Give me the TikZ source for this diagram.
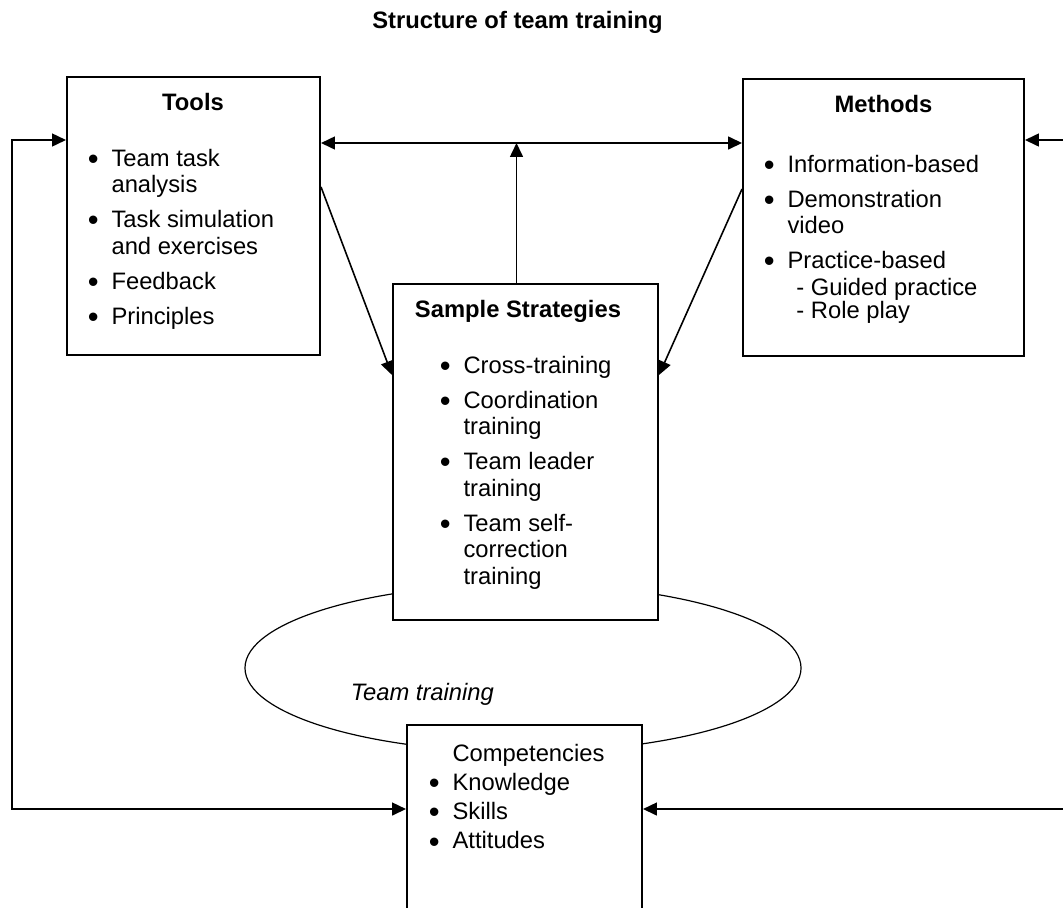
\documentclass[tikz,border=0pt]{standalone}
\usepackage{graphicx}
\usepackage{fontspec}
\setmainfont{Liberation Sans}
\usetikzlibrary{arrows.meta,calc,shapes.geometric}
\newcommand{\bul}{\makebox[12pt][l]{\raisebox{-1.6pt}{\scalebox{1.3}{\textbullet}}}}
\newcommand{\ind}{\hspace*{12pt}}

\begin{document}
\begin{tikzpicture}[x=0.505pt, y=-0.505pt, >={Triangle[length=7pt,width=6.5pt]}, line width=0.8pt, font=\fontsize{12}{13.4}\selectfont, box/.style={draw, line width=1pt, fill=white, inner sep=0pt}, txt/.style={align=left, inner sep=0pt, anchor=north west}, head/.style={font=\fontsize{12}{13.4}\selectfont\bfseries, inner sep=0pt, anchor=base}]
	\useasboundingbox (0,0) rectangle (1063,907);
	\clip (0,0) rectangle (1063,907);
	\node[ellipse, draw, line width=0.6pt, minimum width=280.8pt, minimum height=84.8pt] (ring) at (523,668) {};
	\node[box, minimum width=127.8pt, minimum height=140.4pt] (tools) at (193.5,216) {};
	\node[box, minimum width=141.9pt, minimum height=139.9pt] (methods) at (883.5,217.5) {};
	\node[box, minimum width=133.8pt, minimum height=169.7pt] (strat) at (525.5,452) {};
	\node[box, minimum width=118.7pt, minimum height=138.9pt] (comp) at (524.5,862.5) {};
	\node[head] (title) at (517.5,28) {Structure of team training};
	\node[head] (toolsT) at (193,110) {Tools};
	\node[head] (methT) at (883.5,112) {Methods};
	\node[head] (stratT) at (518,317) {Sample Strategies};
	\node[txt] (toolsL) at (87,148) {\bul Team task\\\ind analysis\\[4.3pt]\bul Task simulation\\\ind and exercises\\[4.3pt]\bul Feedback\\[4.3pt]\bul Principles};
	\node[txt] (methL) at (763,154) {\bul Information-based\\[4.3pt]\bul Demonstration\\\ind video\\[4.3pt]\bul Practice-based\\\ind\hspace*{4.5pt}- Guided practice\\[-1.5pt]\ind\hspace*{4.5pt}- Role play};
	\node[txt] (stratL) at (439,355) {\bul Cross-training\\[4.3pt]\bul Coordination\\\ind training\\[4.3pt]\bul Team leader\\\ind training\\[4.3pt]\bul Team self-\\\ind correction\\\ind training};
	\node[txt] (compL) at (428,743) {\ind Competencies\\[1.4pt]\bul Knowledge\\[1.4pt]\bul Skills\\[1.4pt]\bul Attitudes};
	\node[anchor=base west, inner sep=0pt, font=\fontsize{12}{13.4}\selectfont\itshape] (ringT) at (350,700) {Team training};
	\coordinate (mid) at (516.5,143);
	\coordinate (tl) at (12,140);
	\coordinate (bl) at (12,809);
	\coordinate (tr) at (1090,140);
	\coordinate (br) at (1090,809);
	\draw[<->] (tools.east |- mid) -- (methods.west |- mid);
	\draw[->] (strat.north -| mid) -- (mid);
	\draw[->] ($(tools.north east)+(0,111)$) -- ($(strat.north west)+(0,92)$);
	\draw[->] ($(methods.north west)+(0,111)$) -- ($(strat.north east)+(0,92)$);
	\draw[<->] (tools.west |- tl) -- (tl) -- (bl) -- (comp.west |- bl);
	\draw[<->] (methods.east |- tr) -- (tr) -- (br) -- (comp.east |- br);
\end{tikzpicture}
\end{document}
